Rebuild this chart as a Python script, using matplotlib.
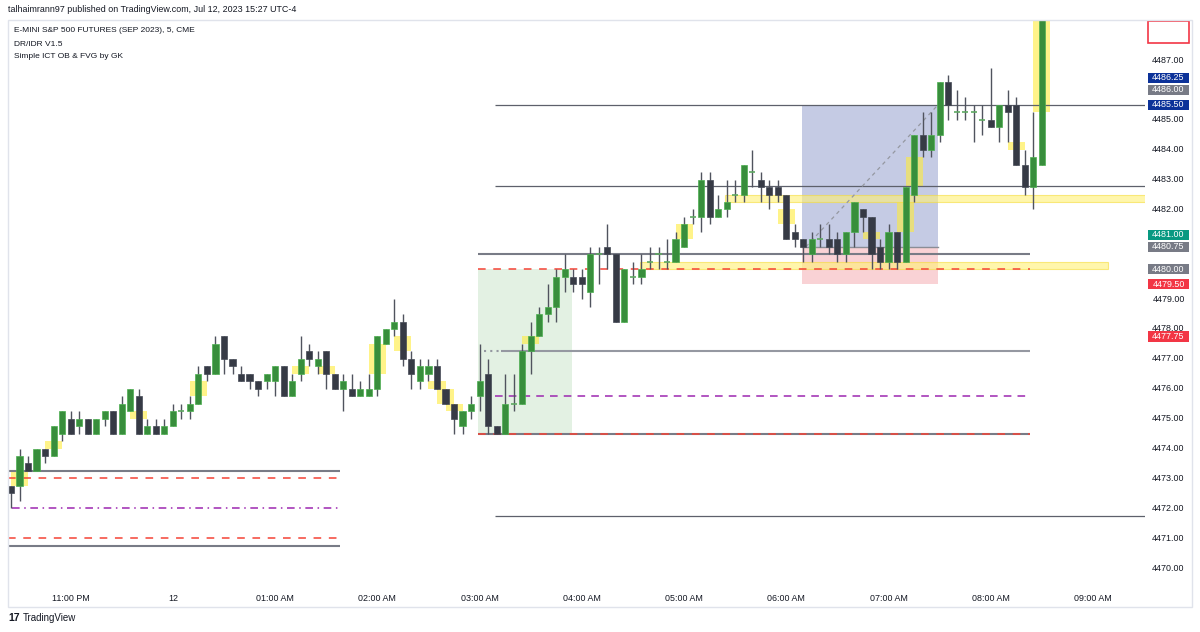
import matplotlib
matplotlib.use("Agg")
import matplotlib.pyplot as plt
from matplotlib.patches import Rectangle
import matplotlib.transforms as mtransforms

plt.rcParams['font.family'] = ['Liberation Sans', 'DejaVu Sans']

# 5-minute candles, bar 1 = 22:25, bar 8 = 23:00 ... bar 122 = 08:30
opens = [4472.75, 4472.75, 4473.5, 4473.25, 4474.0, 4473.75, 4474.5, 4475.0, 4474.75, 4475.0,
         4474.5, 4475.0, 4475.25, 4474.5, 4475.25, 4475.75, 4474.5, 4474.75, 4474.5, 4474.75,
         4475.25, 4475.25, 4475.5, 4476.75, 4476.5, 4477.75, 4477.0, 4476.5, 4476.5, 4476.25,
         4476.25, 4476.25, 4476.75, 4475.75, 4476.5, 4477.25, 4476.75, 4477.25, 4476.5, 4476.0,
         4476.0, 4475.75, 4475.75, 4476.0, 4477.5, 4478.0, 4478.25, 4477.0, 4476.25, 4476.5,
         4476.75, 4476.0, 4475.5, 4474.75, 4475.25, 4475.75, 4476.5, 4474.75, 4474.5, 4475.5,
         4475.5, 4477.25, 4477.75, 4478.5, 4478.75, 4479.75, 4479.75, 4479.75, 4479.25, 4480.5,
         4480.75, 4480.5, 4478.25, 4479.75, 4479.75, 4480.25, 4480.5, 4480.25, 4480.25, 4480.75,
         4481.75, 4481.75, 4483.0, 4481.75, 4482.0, 4482.5, 4482.5, 4483.25, 4483.0, 4482.75,
         4482.75, 4482.5, 4481.25, 4481.0, 4480.5, 4481.0, 4481.0, 4481.0, 4480.5, 4481.25,
         4482.0, 4481.75, 4480.75, 4480.25, 4481.25, 4480.25, 4482.5, 4484.5, 4484.0, 4484.5,
         4486.25, 4485.25, 4485.25, 4485.25, 4485.0, 4485.0, 4484.75, 4485.5, 4485.5, 4483.5,
         4482.75, 4483.5]
highs = [4472.75, 4474.0, 4473.75, 4474.0, 4474.0, 4474.75, 4475.25, 4475.25, 4475.25, 4475.0,
         4475.0, 4475.25, 4475.25, 4475.75, 4476.0, 4476.0, 4475.0, 4475.0, 4475.0, 4475.5,
         4475.5, 4475.75, 4476.75, 4476.75, 4477.75, 4477.75, 4477.0, 4476.75, 4476.5, 4476.25,
         4476.5, 4476.75, 4476.75, 4476.5, 4477.75, 4477.5, 4477.25, 4477.25, 4476.5, 4476.5,
         4476.5, 4476.25, 4476.5, 4477.75, 4478.0, 4479.0, 4478.5, 4477.25, 4477.0, 4477.0,
         4477.0, 4476.0, 4475.5, 4475.25, 4475.75, 4477.5, 4477.0, 4474.75, 4476.5, 4476.5,
         4477.5, 4478.25, 4478.75, 4479.5, 4480.0, 4480.5, 4480.0, 4480.0, 4480.75, 4480.75,
         4481.5, 4480.5, 4480.0, 4480.25, 4480.5, 4480.75, 4480.75, 4481.0, 4481.25, 4481.75,
         4482.0, 4483.25, 4483.25, 4482.5, 4483.0, 4483.0, 4483.5, 4484.0, 4483.25, 4483.0,
         4483.0, 4482.5, 4481.5, 4481.0, 4481.25, 4481.5, 4481.5, 4481.25, 4481.25, 4482.25,
         4482.0, 4481.75, 4481.0, 4481.5, 4481.25, 4482.75, 4484.5, 4485.25, 4485.25, 4486.25,
         4486.5, 4486.0, 4485.75, 4485.5, 4485.5, 4486.75, 4485.5, 4486.0, 4485.75, 4484.0,
         4485.25, 4488.75]
lows = [4472.0, 4472.25, 4473.25, 4473.25, 4473.5, 4473.75, 4474.25, 4474.5, 4474.5, 4474.5,
        4474.5, 4474.75, 4474.5, 4474.5, 4475.25, 4474.5, 4474.5, 4474.5, 4474.5, 4474.75,
        4475.0, 4475.0, 4475.5, 4476.25, 4476.5, 4476.5, 4476.5, 4476.25, 4476.0, 4475.75,
        4476.0, 4475.75, 4475.75, 4475.75, 4476.25, 4476.75, 4476.5, 4476.0, 4476.0, 4475.25,
        4475.75, 4475.75, 4475.75, 4475.75, 4477.5, 4477.75, 4476.75, 4476.0, 4476.0, 4476.25,
        4476.0, 4475.5, 4474.5, 4474.5, 4475.0, 4475.25, 4474.5, 4474.5, 4474.5, 4475.25,
        4475.5, 4476.5, 4477.75, 4478.25, 4478.25, 4479.25, 4479.25, 4479.0, 4478.75, 4479.5,
        4480.0, 4478.25, 4478.25, 4479.5, 4479.5, 4480.0, 4480.0, 4480.0, 4480.25, 4480.75,
        4481.5, 4481.25, 4481.5, 4481.75, 4481.75, 4482.25, 4482.25, 4482.75, 4482.25, 4482.0,
        4482.25, 4481.0, 4480.75, 4480.25, 4480.25, 4480.75, 4480.5, 4480.25, 4480.25, 4480.75,
        4481.25, 4480.0, 4480.0, 4480.0, 4480.0, 4480.25, 4482.25, 4483.75, 4483.75, 4484.25,
        4485.0, 4485.0, 4485.0, 4484.25, 4484.5, 4484.75, 4484.25, 4484.25, 4483.5, 4482.5,
        4482.0, 4483.5]
closes = [4472.5, 4473.75, 4473.25, 4474.0, 4473.75, 4474.75, 4475.25, 4474.5, 4475.0, 4474.5,
          4475.0, 4475.25, 4474.5, 4475.5, 4476.0, 4474.5, 4474.75, 4474.5, 4474.75, 4475.25,
          4475.25, 4475.5, 4476.5, 4476.5, 4477.5, 4477.0, 4476.75, 4476.25, 4476.25, 4476.0,
          4476.5, 4476.75, 4475.75, 4476.25, 4477.0, 4477.0, 4477.0, 4476.5, 4476.0, 4476.25,
          4475.75, 4476.0, 4476.0, 4477.75, 4478.0, 4478.25, 4477.0, 4476.5, 4476.75, 4476.75,
          4476.0, 4475.5, 4475.0, 4475.25, 4475.5, 4476.25, 4474.75, 4474.5, 4475.5, 4475.5,
          4477.25, 4477.75, 4478.5, 4478.75, 4479.75, 4480.0, 4479.5, 4479.5, 4480.5, 4480.5,
          4480.5, 4478.25, 4480.0, 4479.75, 4480.0, 4480.25, 4480.5, 4480.25, 4481.0, 4481.5,
          4481.75, 4483.0, 4481.75, 4482.0, 4482.25, 4482.5, 4483.5, 4483.25, 4482.75, 4482.5,
          4482.5, 4481.0, 4481.0, 4480.75, 4481.0, 4481.0, 4480.75, 4480.5, 4481.25, 4482.25,
          4481.75, 4480.5, 4480.25, 4481.25, 4480.25, 4482.75, 4484.5, 4484.0, 4484.5, 4486.25,
          4485.5, 4485.25, 4485.25, 4485.25, 4485.0, 4484.75, 4485.5, 4485.25, 4483.5, 4482.75,
          4483.75, 4488.75]
bars = list(range(1, len(opens) + 1))

# fair value gaps: first bar of the 3-bar pattern, low / high of the gap
fvg_start = [1, 5, 15, 22, 34, 37, 43, 46, 50, 51, 52, 61, 79, 91, 101, 105, 106, 118, 121]
fvg_low = [4472.75, 4474.0, 4475.0, 4475.75, 4476.5, 4476.5, 4476.5, 4477.25, 4476.0, 4475.5,
           4475.25, 4477.5, 4481.0, 4481.5, 4481.0, 4481.25, 4482.75, 4484.0, 4485.25]
fvg_high = [4473.25, 4474.25, 4475.25, 4476.25, 4476.75, 4476.75, 4477.5, 4477.75, 4476.25, 4476.0,
            4475.5, 4477.75, 4481.5, 4482.0, 4481.25, 4482.25, 4483.75, 4484.25, 4488.75]
# extended order block zones
ob_start = [84.8, 74.8]
ob_end = [140, 129.75]
ob_low = [4482.25, 4480.0]
ob_high = [4482.5, 4480.25]

# DR / IDR levels per session
s1_span = (0.65, 39.6)
s1_dr = [4473.25, 4470.75]
s1_idr = [4473.0, 4471.0]
s1_mid = 4472.0
s2_span = (55.8, 120.6)
s2_dr = [4480.5, 4474.5]
s2_idr = [4480.0, 4474.5]
s2_mid = 4475.75
s2_dr_mid = 4477.25
long_lines = [4485.5, 4482.8, 4471.75]

# long position tool
pos_left, pos_right = 93.8, 109.8
pos_target, pos_entry, pos_stop = 4485.5, 4480.75, 4479.5
# DR session box
box_left, box_right = 55.8, 66.8
box_low, box_high = 4474.5, 4480.0

# time axis
time_ticks = [8, 20, 32, 44, 56, 68, 80, 92, 104, 116, 128]
time_labels = ['11:00 PM', '12', '01:00 AM', '02:00 AM', '03:00 AM', '04:00 AM',
               '05:00 AM', '06:00 AM', '07:00 AM', '08:00 AM', '09:00 AM']
price_ticks = [4470, 4471, 4472, 4473, 4474, 4475, 4476, 4477, 4478, 4479, 4482, 4483, 4484,
               4485, 4487]
# right scale labels
lbl_values = [4477.75, 4479.5, 4480.0, 4480.75, 4481.0, 4485.5, 4486.0, 4486.25]
lbl_colors = ['#f23645', '#f23645', '#787b86', '#787b86', '#089981', '#0c3299', '#787b86', '#0c3299']
last_price = 4488.25

W, H = 1200, 632
fig = plt.figure(figsize=(12, 6.32), dpi=100)
fig.patch.set_facecolor('white')

ax = fig.add_axes([8 / W, (H - 583) / H, (1145 - 8) / W, (583 - 20) / H])
ax2 = fig.add_axes([1145 / W, (H - 583) / H, (1192 - 1145) / W, (583 - 20) / H])
ylo, yhi = 4469.5, 4488.34
ax.set_xlim(0.65, 134.1)
ax.set_ylim(ylo, yhi)
ax2.set_xlim(0, 1)
ax2.set_ylim(ylo, yhi)
ax2.axis('off')
for s in ax.spines.values():
    s.set_visible(False)
ax.set_yticks([])

# shaded boxes
ax.add_patch(Rectangle((box_left, box_low), box_right - box_left, box_high - box_low,
                       facecolor='#e3f1e3', edgecolor='none', zorder=0.5))
ax.add_patch(Rectangle((pos_left, pos_entry), pos_right - pos_left, pos_target - pos_entry,
                       facecolor='#c5cbe4', edgecolor='none', zorder=0.5))
ax.add_patch(Rectangle((pos_left, pos_stop), pos_right - pos_left, pos_entry - pos_stop,
                       facecolor='#f9d2d5', edgecolor='none', zorder=0.5))
ax.plot([pos_left, pos_right], [pos_entry, pos_entry], color='#8a8d96', lw=1, zorder=1.6)
ax.plot([pos_left + 0.5, pos_right], [pos_entry, pos_target], color='#9598a1', lw=0.9,
        ls=(0, (3, 3)), zorder=1.6)

# fair value gaps
for st, lo, hi in zip(fvg_start, fvg_low, fvg_high):
    ax.add_patch(Rectangle((st, lo), 2, hi - lo, facecolor='#ffeb3b', alpha=0.6,
                           edgecolor='none', zorder=1))
for st, en, lo, hi in zip(ob_start, ob_end, ob_low, ob_high):
    ax.add_patch(Rectangle((st, lo), en - st, hi - lo, facecolor='#fff176', alpha=0.6,
                           edgecolor='#f5dc3a', lw=0.8, zorder=1))

# session 1 levels
ax.hlines(s1_dr, *s1_span, color='#787b86', lw=1.5, zorder=1.5)
ax.hlines(s1_idr, *s1_span, color='#f44336', lw=1.1, linestyles=(0, (5, 5)), zorder=1.5)
ax.hlines(s1_mid, 1.1, s1_span[1], color='#9c27b0', lw=1.1, linestyles=(0, (5, 3, 1, 3)), zorder=1.5)
# session 2 levels
ax.hlines(s2_dr, *s2_span, color='#787b86', lw=1.5, zorder=1.5)
ax.hlines(s2_idr, *s2_span, color='#f44336', lw=1.1, linestyles=(0, (5, 5)), zorder=1.6)
ax.hlines(s2_dr_mid, 56.5, 58.5, color='#9598a1', lw=1.5, linestyles=(0, (1, 2)), zorder=1.5)
ax.hlines(s2_dr_mid, 58.5, s2_span[1], color='#9598a1', lw=1.5, zorder=1.5)
ax.hlines(s2_mid, 57.8, s2_span[1], color='#9c27b0', lw=1.1, linestyles=(0, (5, 4)), zorder=1.5)
ax.hlines(long_lines, 57.8, 140, color='#5d606b', lw=0.9, zorder=1.5)

# candles
up_col, dn_col, wick_col = '#388e3c', '#363a45', '#50535e'
ax.vlines(bars, lows, highs, color=wick_col, lw=1, zorder=2)
for b, o, c in zip(bars, opens, closes):
    if o == c:
        ax.hlines(o, b - 0.36, b + 0.36, color='#5ea862', lw=1.2, zorder=3)
    else:
        col = up_col if c > o else dn_col
        edge = '#4caf50' if c > o else '#444955'
        ax.bar(b, abs(c - o), bottom=min(o, c), width=0.72, color=col, edgecolor=edge,
               lw=0.5, zorder=3)

# time axis
ax.set_xticks(time_ticks)
ax.set_xticklabels(time_labels, fontsize=6.4, color='#131722')
ax.tick_params(axis='x', length=0, pad=8)

# price scale
for p in price_ticks:
    ax2.text(0.5, p, f'{p:.2f}', fontsize=6.4, color='#131722', ha='center', va='center')
blend = mtransforms.blended_transform_factory(ax2.transAxes, ax2.transData)
placed = []
for v, col in sorted(zip(lbl_values, lbl_colors)):
    y = v
    if placed and y - placed[-1] < 0.4:
        y = placed[-1] + 0.4
    placed.append(y)
    ax2.add_patch(Rectangle((0.06, y - 0.17), 0.88, 0.34, transform=blend, facecolor=col,
                            edgecolor='none', zorder=4))
    ax2.text(0.5, y, f'{v:.2f}', fontsize=6.4, color='white', ha='center', va='center', zorder=5)
ax2.add_patch(Rectangle((0.06, yhi - 0.77), 0.88, 0.74, transform=blend, facecolor='white',
                        edgecolor='#f23645', lw=1.2, zorder=4))
ax2.text(0.5, last_price + 0.2, f'{last_price:.2f}', fontsize=6.4, color='#f23645', ha='center',
         va='center', zorder=5, clip_on=True)

# frame
fig.add_artist(Rectangle((8 / W, 1 - 607 / H), (1192 - 8) / W, (607 - 20) / H,
                         transform=fig.transFigure, fill=False, edgecolor='#e0e3eb', lw=1))

# header / legend
fig.text(8 / W, 1 - 10 / H, 'talhaimrann97 published on TradingView.com, Jul 12, 2023 15:27 UTC-4',
         fontsize=6.4, color='#131722', va='center')
legend_lines = ['E-MINI S&P 500 FUTURES (SEP 2023), 5, CME', 'DR/IDR V1.5', 'Simple ICT OB & FVG by GK']
for k, t in enumerate(legend_lines):
    fig.text(14 / W, 1 - (31 + 13 * k) / H, t, fontsize=6.0, color='#131722', va='center')

# footer logo
fig.text(8 / W, 1 - 618 / H, '17', fontsize=7.5, fontweight='heavy', color='#131722', va='center')
fig.text(23 / W, 1 - 618 / H, 'TradingView', fontsize=7, color='#131722', va='center')

fig.savefig('out.png', dpi=100, facecolor='white')
